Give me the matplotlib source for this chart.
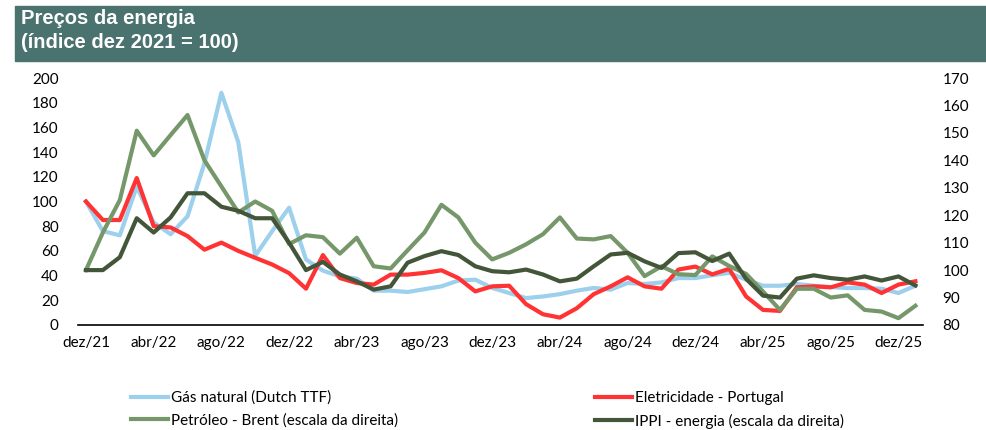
import numpy as np
import matplotlib.pyplot as plt
from matplotlib.patches import Rectangle

# meses dez/21 .. jan/26
months = np.arange(50)
tick_pos = np.arange(0, 49, 4)
tick_labels = ["dez/21", "abr/22", "ago/22", "dez/22", "abr/23", "ago/23", "dez/23",
               "abr/24", "ago/24", "dez/24", "abr/25", "ago/25", "dez/25"]

gas = [100, 76, 72.6, 112, 83, 73.5, 88, 131, 188, 148, 56, 76, 95, 53, 44, 39.4, 37.5,
       27.8, 27.8, 26.7, 29, 31.3, 36, 36.7, 30, 25.9, 21.8, 23.1, 25, 27.8, 30, 28.6, 34,
       33.2, 34.5, 38, 38, 40.3, 42.2, 36.7, 31.8, 31.8, 33.2, 31.8, 30.7, 29.9, 29.9, 29.4,
       25.9, 31.8]
eletricidade = [100, 85, 85, 119, 80, 79, 72, 61, 66.7, 60, 54.4, 49, 42, 29.4, 56.6, 38,
                34, 32.7, 40.8, 40.8, 42.2, 44.3, 38, 27.2, 31.3, 31.8, 16.9, 8.7, 6, 13.6,
                25, 31.3, 38.6, 31.3, 29.4, 44.9, 47.3, 41, 45.5, 23.1, 12.2, 11.4, 30.5,
                31.3, 30.5, 34.5, 32.7, 25.9, 32.7, 35.4]
brent = [100, 113.7, 125.5, 150.8, 141.8, 149.2, 156.5, 140, 130.5, 121, 125, 121.6, 109.5,
         112.7, 112, 106, 111.8, 101.4, 100.6, 107.2, 113.7, 123.8, 119.2, 110, 103.9, 106.3,
         109.4, 113.1, 119.2, 111.5, 111.2, 112.4, 106.3, 97.8, 101.4, 98.5, 98.2, 105,
         101.5, 98.6, 92.2, 85.5, 93.2, 93.2, 90, 90.8, 85.5, 84.9, 82.5, 87]
ippi = [100, 100, 104.7, 118.9, 113.7, 119.2, 128, 128, 123.1, 121.6, 118.9, 118.9, 110,
        100, 103, 98.4, 95.9, 92.9, 94.1, 102.7, 105.1, 106.9, 105.5, 101.4, 99.6, 99.2,
        100.2, 98.4, 95.9, 96.9, 101.4, 105.7, 106.3, 103.2, 100.8, 106.2, 106.5, 103.3,
        106, 96.8, 90.7, 90, 96.9, 98.1, 97.1, 96.5, 97.7, 96.2, 97.7, 94.4]

plt.rcParams['font.family'] = ['Lato', 'DejaVu Sans']

fig = plt.figure(figsize=(9.87, 4.30), dpi=100)
ax = fig.add_axes([78/987, 105/430, 845/987, 247/430])
ax2 = ax.twinx()

lw = 3.0
l1, = ax.plot(months, gas, color="#9dd0ec", lw=lw, label="Gás natural (Dutch TTF)")
l2, = ax.plot(months, eletricidade, color="#ff3333", lw=lw, label="Eletricidade - Portugal")
l3, = ax2.plot(months, brent, color="#76976a", lw=lw, label="Petróleo - Brent (escala da direita)")
l4, = ax2.plot(months, ippi, color="#435639", lw=lw, label="IPPI - energia (escala da direita)")

ax.set_xlim(-0.47, 49.45)
ax.set_ylim(0, 200)
ax.set_yticks(np.arange(0, 201, 20))
ax2.set_ylim(80, 170)
ax2.set_yticks(np.arange(80, 171, 10))
ax.set_xticks(tick_pos)
ax.set_xticklabels(tick_labels)

for a in (ax, ax2):
    for s in ["top", "left", "right", "bottom"]:
        a.spines[s].set_visible(False)
    a.tick_params(length=0, labelsize=11, colors="black")
ax.spines["bottom"].set_visible(True)
ax.spines["bottom"].set_color("black")
ax.spines["bottom"].set_linewidth(1.2)
ax.tick_params(axis="y", pad=14)
ax2.tick_params(axis="y", pad=14)
ax.tick_params(axis="x", pad=8)

# faixa do título
fig.patches.append(Rectangle((15/987, 369/430), 1 - 15/987, 55/430,
                             transform=fig.transFigure, color="#4a7370", zorder=0))
fig.text(21/987, 1 - 19/430, "Preços da energia", color="white", fontsize=14.5,
         fontweight="bold", family="Liberation Sans", va="center")
fig.text(21/987, 1 - 42/430, "(índice dez 2021 = 100)", color="white", fontsize=14.5,
         fontweight="bold", family="Liberation Sans", va="center")

fig.legend(handles=[l1, l3, l2, l4], ncol=2, loc="upper left",
           bbox_to_anchor=(117/987, 1 - 377/430), frameon=False, fontsize=11,
           handlelength=2.42, handletextpad=0.2, columnspacing=12.9, labelspacing=0.55)

fig.savefig("out.png", dpi=100)
